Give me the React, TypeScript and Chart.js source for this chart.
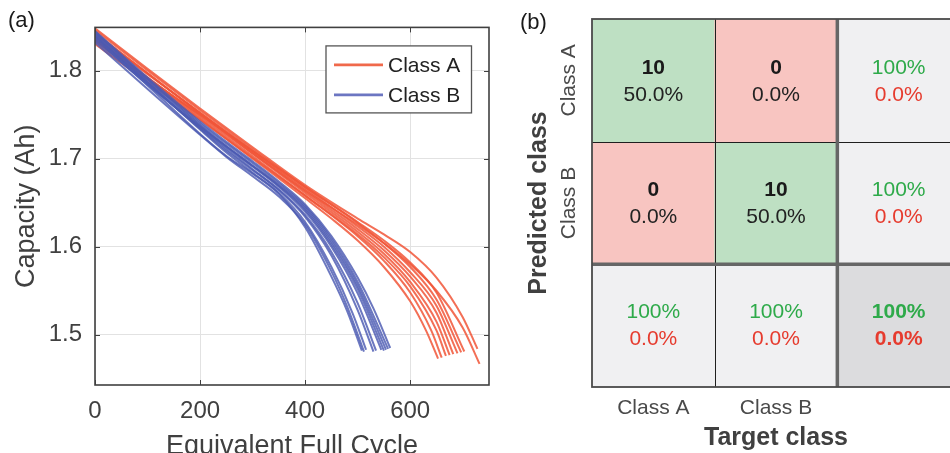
import React, { useEffect, useRef } from 'react';
import { Chart, registerables } from 'chart.js';

Chart.register(...registerables);

const FONT = '"Liberation Sans", Arial, Helvetica, sans-serif';

// ---------------- panel (a) data ----------------
const cycleTicks = [0, 200, 400, 600];
const capacityTicks = [1.5, 1.6, 1.7, 1.8];
const cycleRange = [0, 750];
const capacityRange = [1.443, 1.849];

const classACycles: number[][] = [
  [0, 100, 200, 300, 400, 450, 500, 550, 600, 630, 653],
  [0, 100, 200, 300, 400, 500, 550, 600, 640, 660],
  [0, 100, 200, 300, 400, 500, 550, 600, 650, 668],
  [0, 100, 200, 300, 400, 500, 550, 600, 650, 675],
  [0, 100, 200, 300, 400, 500, 550, 600, 650, 682],
  [0, 100, 200, 300, 400, 500, 550, 600, 650, 690],
  [0, 100, 200, 300, 400, 500, 550, 600, 650, 697],
  [0, 100, 200, 300, 400, 500, 550, 600, 650, 703],
  [0, 100, 200, 300, 400, 500, 550, 600, 650, 700, 728],
  [0, 100, 200, 300, 400, 500, 550, 600, 650, 700, 732],
];
const classACapacity: number[][] = [
  [1.835, 1.790, 1.745, 1.700, 1.655, 1.632, 1.607, 1.577, 1.538, 1.505, 1.473],
  [1.838, 1.792, 1.747, 1.703, 1.658, 1.612, 1.584, 1.548, 1.505, 1.474],
  [1.830, 1.787, 1.744, 1.701, 1.658, 1.614, 1.588, 1.555, 1.505, 1.476],
  [1.843, 1.797, 1.751, 1.706, 1.661, 1.617, 1.592, 1.560, 1.515, 1.477],
  [1.836, 1.792, 1.749, 1.706, 1.663, 1.620, 1.596, 1.566, 1.525, 1.478],
  [1.840, 1.796, 1.752, 1.709, 1.666, 1.623, 1.600, 1.571, 1.533, 1.479],
  [1.846, 1.800, 1.755, 1.711, 1.668, 1.627, 1.604, 1.577, 1.540, 1.480],
  [1.833, 1.791, 1.750, 1.709, 1.668, 1.628, 1.607, 1.582, 1.548, 1.481],
  [1.848, 1.802, 1.757, 1.713, 1.670, 1.632, 1.614, 1.594, 1.565, 1.520, 1.484],
  [1.842, 1.797, 1.752, 1.708, 1.664, 1.625, 1.604, 1.580, 1.550, 1.508, 1.467],
];

const classBCycles: number[][] = [
  [0, 100, 200, 250, 300, 350, 400, 450, 480, 508],
  [0, 100, 200, 250, 300, 350, 400, 450, 480, 512],
  [0, 100, 200, 250, 300, 350, 400, 450, 490, 516],
  [0, 100, 200, 250, 300, 350, 400, 450, 500, 530],
  [0, 100, 200, 250, 300, 350, 400, 450, 500, 535],
  [0, 100, 200, 250, 300, 350, 400, 450, 500, 545],
  [0, 100, 200, 250, 300, 350, 400, 450, 500, 550],
  [0, 100, 200, 250, 300, 350, 400, 450, 500, 554],
  [0, 100, 200, 250, 300, 350, 400, 450, 500, 558],
  [0, 100, 200, 250, 300, 350, 400, 450, 500, 530, 562],
];
const classBCapacity: number[][] = [
  [1.838, 1.783, 1.728, 1.703, 1.683, 1.660, 1.622, 1.566, 1.527, 1.482],
  [1.832, 1.779, 1.727, 1.702, 1.680, 1.657, 1.625, 1.572, 1.532, 1.481],
  [1.842, 1.787, 1.733, 1.707, 1.684, 1.661, 1.628, 1.577, 1.525, 1.483],
  [1.836, 1.785, 1.735, 1.711, 1.688, 1.664, 1.634, 1.590, 1.528, 1.481],
  [1.840, 1.786, 1.734, 1.709, 1.687, 1.665, 1.636, 1.594, 1.536, 1.482],
  [1.834, 1.784, 1.736, 1.713, 1.691, 1.668, 1.640, 1.600, 1.547, 1.483],
  [1.844, 1.790, 1.738, 1.714, 1.692, 1.669, 1.642, 1.603, 1.552, 1.482],
  [1.839, 1.787, 1.737, 1.714, 1.692, 1.670, 1.644, 1.606, 1.556, 1.483],
  [1.843, 1.790, 1.740, 1.717, 1.695, 1.672, 1.646, 1.609, 1.560, 1.484],
  [1.845, 1.792, 1.742, 1.719, 1.697, 1.674, 1.648, 1.612, 1.565, 1.530, 1.485],
];

const seriesNames = ['Class A', 'Class B'];
const lineColors = ['rgba(241, 86, 56, 0.85)', 'rgba(76, 90, 178, 0.82)'];
const legendColors = ['#F0694B', '#6C76C2'];

// ---------------- panel (b) data ----------------
const classLabels = ['Class A', 'Class B'];
const confusionCounts = [
  [10, 0],
  [0, 10],
];
const confusionPercents = [
  ['50.0%', '0.0%'],
  ['0.0%', '50.0%'],
];
const rowSummaryGood = ['100%', '100%'];
const rowSummaryBad = ['0.0%', '0.0%'];
const colSummaryGood = ['100%', '100%'];
const colSummaryBad = ['0.0%', '0.0%'];
const overallGood = '100%';
const overallBad = '0.0%';

const cellColors = {
  correct: '#BEE0C3',
  wrong: '#F8C5C1',
  summary: '#F0F0F2',
  overall: '#DCDCDE',
};

const textGreen = '#2EAA4A';
const textRed = '#E63B2E';

// ---------------- plugins ----------------
const panelAPlugin = {
  id: 'panelA',
  afterDraw(chart: any) {
    const { ctx, chartArea: a, scales } = chart;
    ctx.save();
    // inward tick marks on all sides
    ctx.strokeStyle = '#404040';
    ctx.lineWidth = 1;
    const tl = 5;
    ctx.beginPath();
    scales.x.ticks.forEach((t: any) => {
      const px = Math.round(scales.x.getPixelForValue(t.value)) + 0.5;
      ctx.moveTo(px, a.bottom);
      ctx.lineTo(px, a.bottom - tl);
      ctx.moveTo(px, a.top);
      ctx.lineTo(px, a.top + tl);
    });
    scales.y.ticks.forEach((t: any) => {
      const py = Math.round(scales.y.getPixelForValue(t.value)) + 0.5;
      ctx.moveTo(a.left, py);
      ctx.lineTo(a.left + tl, py);
      ctx.moveTo(a.right, py);
      ctx.lineTo(a.right - tl, py);
    });
    ctx.stroke();
    // axes box
    ctx.lineWidth = 1.6;
    ctx.strokeRect(a.left, a.top, a.right - a.left, a.bottom - a.top);

    // legend
    const x0 = a.right - 163;
    const y0 = a.top + 18.5;
    const w = 145.5;
    const h = 67;
    ctx.fillStyle = '#ffffff';
    ctx.fillRect(x0, y0, w, h);
    ctx.strokeStyle = '#555555';
    ctx.lineWidth = 1.3;
    ctx.strokeRect(x0, y0, w, h);
    seriesNames.forEach((name, i) => {
      const yy = y0 + 19 + i * 30;
      ctx.strokeStyle = legendColors[i];
      ctx.lineWidth = 2.6;
      ctx.beginPath();
      ctx.moveTo(x0 + 8, yy);
      ctx.lineTo(x0 + 57, yy);
      ctx.stroke();
      ctx.fillStyle = '#222222';
      ctx.font = `21px ${FONT}`;
      ctx.textAlign = 'left';
      ctx.textBaseline = 'middle';
      ctx.fillText(name, x0 + 62, yy + 1.5);
    });

    // panel letter
    ctx.fillStyle = '#1a1a1a';
    ctx.font = `22px ${FONT}`;
    ctx.textAlign = 'left';
    ctx.textBaseline = 'middle';
    ctx.fillText('(a)', 8, 21);
    ctx.restore();
  },
};

const panelBPlugin = {
  id: 'panelB',
  afterDatasetsDraw(chart: any) {
    const { ctx, chartArea: a, scales } = chart;
    const xs = scales.x;
    const ys = scales.y;
    const colEdge = (b: number) => xs.getPixelForValue(b - 0.5);
    const rowEdge = (b: number) => ys.getPixelForValue(b);
    const colCenter = (c: number) => xs.getPixelForValue(c);
    const rowCenter = (r: number) => (rowEdge(r) + rowEdge(r + 1)) / 2;

    ctx.save();
    // thin black separators
    ctx.strokeStyle = '#1f1f1f';
    ctx.lineWidth = 1;
    ctx.beginPath();
    const vx = Math.round(colEdge(1)) + 0.5;
    ctx.moveTo(vx, a.top);
    ctx.lineTo(vx, a.bottom);
    const hy = Math.round(rowEdge(1)) + 0.5;
    ctx.moveTo(a.left, hy);
    ctx.lineTo(a.right, hy);
    ctx.stroke();

    // thick gray separators
    ctx.strokeStyle = '#666666';
    ctx.lineWidth = 3.5;
    ctx.beginPath();
    const tx = colEdge(2);
    ctx.moveTo(tx, a.top);
    ctx.lineTo(tx, a.bottom);
    const ty = rowEdge(2);
    ctx.moveTo(a.left, ty);
    ctx.lineTo(a.right, ty);
    ctx.stroke();

    // outer border
    ctx.strokeStyle = '#4a4a4a';
    ctx.lineWidth = 1.8;
    ctx.strokeRect(a.left, a.top, a.right - a.left, a.bottom - a.top);

    // cell texts
    ctx.textAlign = 'center';
    ctx.textBaseline = 'middle';
    const up = -12.5;
    const dn = 14.5;
    for (let r = 0; r < 2; r++) {
      for (let c = 0; c < 2; c++) {
        const cx = colCenter(c);
        const cy = rowCenter(r);
        ctx.fillStyle = '#1a1a1a';
        ctx.font = `bold 21px ${FONT}`;
        ctx.fillText(String(confusionCounts[r][c]), cx, cy + up);
        ctx.fillStyle = '#222222';
        ctx.font = `21px ${FONT}`;
        ctx.fillText(confusionPercents[r][c], cx, cy + dn);
      }
    }
    ctx.font = `21px ${FONT}`;
    for (let r = 0; r < 2; r++) {
      const cx = colCenter(2);
      const cy = rowCenter(r);
      ctx.fillStyle = textGreen;
      ctx.fillText(rowSummaryGood[r], cx, cy + up);
      ctx.fillStyle = textRed;
      ctx.fillText(rowSummaryBad[r], cx, cy + dn);
    }
    for (let c = 0; c < 2; c++) {
      const cx = colCenter(c);
      const cy = rowCenter(2);
      ctx.fillStyle = textGreen;
      ctx.fillText(colSummaryGood[c], cx, cy - 13.5);
      ctx.fillStyle = textRed;
      ctx.fillText(colSummaryBad[c], cx, cy + 13.5);
    }
    ctx.font = `bold 21px ${FONT}`;
    ctx.fillStyle = textGreen;
    ctx.fillText(overallGood, colCenter(2), rowCenter(2) - 13.5);
    ctx.fillStyle = textRed;
    ctx.fillText(overallBad, colCenter(2), rowCenter(2) + 13.5);

    // column labels
    ctx.fillStyle = '#4a4a4a';
    ctx.font = `21px ${FONT}`;
    classLabels.forEach((lab, c) => {
      ctx.fillText(lab, colCenter(c), a.bottom + 21);
    });
    // row labels (rotated)
    classLabels.forEach((lab, r) => {
      ctx.save();
      ctx.translate(a.left - 22.5, rowCenter(r));
      ctx.rotate(-Math.PI / 2);
      ctx.fillText(lab, 0, 0);
      ctx.restore();
    });
    // titles
    ctx.fillStyle = '#404040';
    ctx.font = `bold 25px ${FONT}`;
    ctx.fillText('Target class', (a.left + a.right) / 2, a.bottom + 51);
    ctx.save();
    ctx.translate(a.left - 52.5, (a.top + a.bottom) / 2);
    ctx.rotate(-Math.PI / 2);
    ctx.fillText('Predicted class', 0, 0);
    ctx.restore();

    // panel letter
    ctx.fillStyle = '#1a1a1a';
    ctx.font = `22px ${FONT}`;
    ctx.textAlign = 'left';
    ctx.fillText('(b)', 20, 23);
    ctx.restore();
  },
};

function buildLineDatasets() {
  const sets: any[] = [];
  const groups = [
    { xs: classBCycles, ys: classBCapacity, color: lineColors[1], name: seriesNames[1] },
    { xs: classACycles, ys: classACapacity, color: lineColors[0], name: seriesNames[0] },
  ];
  groups.forEach((g) => {
    g.xs.forEach((xr, i) => {
      sets.push({
        label: g.name,
        data: xr.map((x, k) => ({ x, y: g.ys[i][k] })),
        borderColor: g.color,
        backgroundColor: g.color,
        borderWidth: 2,
        pointRadius: 0,
        fill: false,
        cubicInterpolationMode: 'monotone',
      });
    });
  });
  return sets;
}

function cellColor(r: number, c: number) {
  if (r === 2 && c === 2) return cellColors.overall;
  if (r === 2 || c === 2) return cellColors.summary;
  return r === c ? cellColors.correct : cellColors.wrong;
}

export default function App() {
  const leftRef = useRef<HTMLCanvasElement | null>(null);
  const rightRef = useRef<HTMLCanvasElement | null>(null);

  useEffect(() => {
    const left = new Chart(leftRef.current as HTMLCanvasElement, {
      type: 'line',
      data: { datasets: buildLineDatasets() },
      options: {
        animation: false,
        responsive: false,
        maintainAspectRatio: false,
        layout: { padding: { top: 20, right: 11, left: 0, bottom: 0 } },
        plugins: { legend: { display: false }, tooltip: { enabled: false } },
        scales: {
          x: {
            type: 'linear',
            min: cycleRange[0],
            max: cycleRange[1],
            afterBuildTicks: (s: any) => {
              s.ticks = cycleTicks.map((v) => ({ value: v }));
            },
            afterFit: (s: any) => {
              s.height = 85;
            },
            grid: { color: '#e2e2e2', lineWidth: 1, drawTicks: false },
            border: { display: false },
            ticks: {
              padding: 12,
              autoSkip: false,
              maxRotation: 0,
              color: '#404040',
              font: { family: FONT, size: 24 },
              callback: (v: any) => String(v),
            },
            title: {
              display: true,
              text: 'Equivalent Full Cycle',
              color: '#404040',
              font: { family: FONT, size: 27 },
              padding: { top: 0, bottom: 7 },
            },
          },
          y: {
            type: 'linear',
            min: capacityRange[0],
            max: capacityRange[1],
            afterBuildTicks: (s: any) => {
              s.ticks = capacityTicks.map((v) => ({ value: v }));
            },
            afterFit: (s: any) => {
              s.width = 95;
            },
            grid: { color: '#e2e2e2', lineWidth: 1, drawTicks: false },
            border: { display: false },
            ticks: {
              padding: 13,
              autoSkip: false,
              color: '#404040',
              font: { family: FONT, size: 24 },
              callback: (v: any) => Number(v).toFixed(1),
            },
            title: {
              display: true,
              text: 'Capacity (Ah)',
              color: '#404040',
              font: { family: FONT, size: 27 },
              padding: { top: 10, bottom: 0 },
            },
          },
        },
      },
      plugins: [panelAPlugin],
    } as any);

    const rows = [0, 1, 2];
    const right = new Chart(rightRef.current as HTMLCanvasElement, {
      type: 'bar',
      data: {
        labels: [...classLabels, ''],
        datasets: rows.map((r) => ({
          label: 'row' + r,
          data: rows.map(() => [r, r + 1]),
          backgroundColor: rows.map((c) => cellColor(r, c)),
          borderWidth: 0,
          grouped: false,
          barPercentage: 1,
          categoryPercentage: 1,
        })),
      },
      options: {
        animation: false,
        responsive: false,
        maintainAspectRatio: false,
        layout: { padding: { left: 92, right: 20, top: 19, bottom: 66 } },
        plugins: { legend: { display: false }, tooltip: { enabled: false } },
        scales: {
          x: { type: 'category', display: false, offset: true },
          y: { type: 'linear', display: false, min: 0, max: 3, reverse: true },
        },
      },
      plugins: [panelBPlugin],
    } as any);

    return () => {
      left.destroy();
      right.destroy();
    };
  }, []);

  return (
    <div
      style={{
        position: 'fixed',
        left: 0,
        top: 0,
        width: 950,
        height: 453,
        overflow: 'hidden',
        background: '#ffffff',
      }}
    >
      <canvas
        ref={leftRef}
        width={500}
        height={470}
        style={{ position: 'absolute', left: 0, top: 0, width: 500, height: 470 }}
      />
      <canvas
        ref={rightRef}
        width={480}
        height={453}
        style={{ position: 'absolute', left: 500, top: 0, width: 480, height: 453 }}
      />
    </div>
  );
}
